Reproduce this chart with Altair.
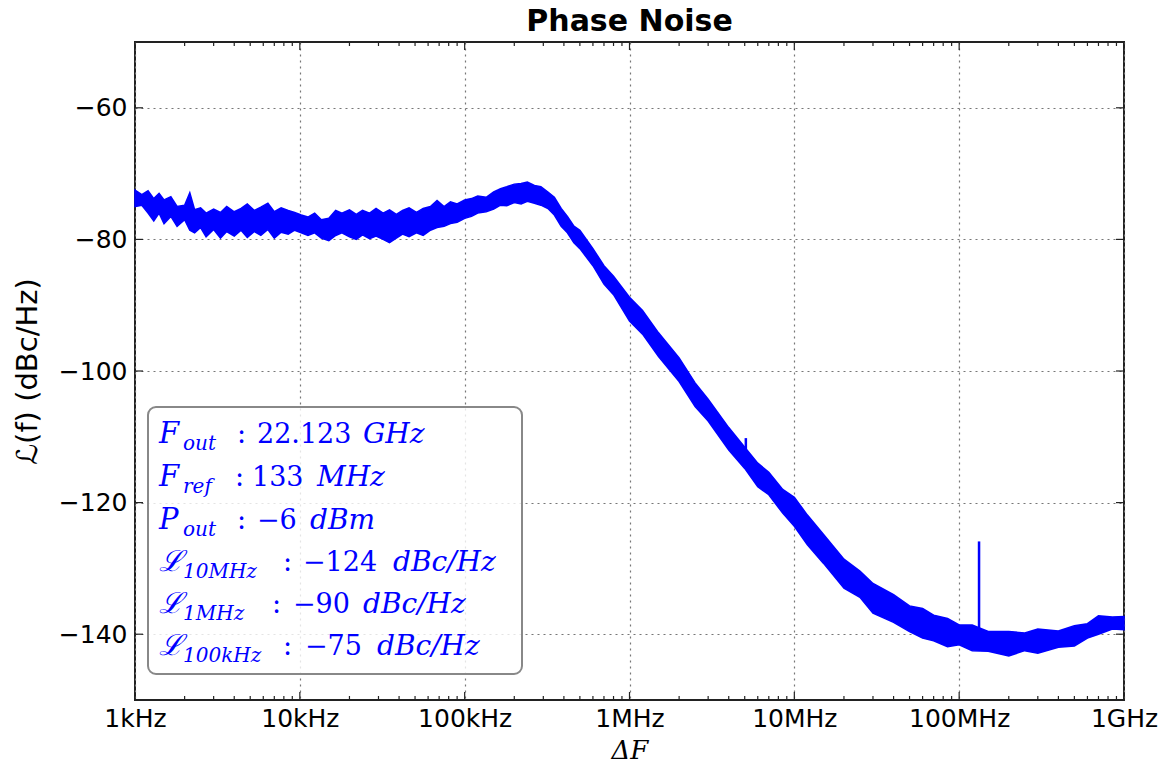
import altair as alt
import pandas as pd

# ---------------- data ----------------
freq_hz = [
    1000, 1100, 1200, 1300, 1400, 1500, 1650, 1800, 2000, 2150, 2300, 2500, 2700,
    3000, 3300, 3600, 4000, 4400, 4800, 5300, 5800, 6400, 7000, 7700, 8500, 9300,
    10200, 11200, 12300, 13500, 15000, 16500, 18000, 20000, 22000, 24000, 26500,
    29000, 32000, 35000, 38500, 42000, 46000, 51000, 56000, 62000, 68000, 75000,
    82000, 90000, 100000, 110000, 120000, 135000, 150000, 165000, 180000, 200000,
    220000, 240000, 265000, 290000, 320000, 350000, 385000, 420000, 460000,
    500000, 600000, 700000, 800000, 1.0e6, 1.2e6, 1.5e6, 2.0e6, 2.5e6, 3.0e6,
    4.0e6, 5.0e6, 6.0e6, 7.0e6, 8.5e6, 1.0e7, 1.2e7, 1.5e7, 2.0e7, 2.5e7, 3.0e7,
    4.0e7, 5.0e7, 6.0e7, 7.0e7, 8.5e7, 1.0e8, 1.2e8, 1.5e8, 2.0e8, 2.5e8, 3.0e8,
    4.0e8, 5.0e8, 6.0e8, 7.0e8, 8.5e8, 1.0e9,
]
upper_db = [
    -72.5, -73.2, -72.6, -73.8, -73.0, -74.0, -73.5, -75.0, -74.8, -72.9, -75.5, -75.2, -76.0,
    -75.4, -75.9, -75.0, -75.8, -75.3, -74.6, -75.6, -75.1, -74.5, -75.8, -75.2, -75.6, -75.9,
    -76.3, -76.6, -76.0, -77.0, -76.8, -75.6, -76.0, -75.5, -76.2, -75.6, -76.0,
    -75.3, -76.0, -75.5, -76.2, -75.6, -75.2, -75.9, -75.3, -75.0, -74.1, -75.0,
    -74.3, -74.6, -74.0, -73.8, -73.4, -73.6, -72.8, -72.3, -72.0, -71.6,
    -71.5, -71.3, -71.8, -72.0, -72.8, -73.6, -75.3, -76.5, -78.0,
    -78.6, -81.4, -84.0, -85.6, -88.8, -90.8, -94.2, -98.0, -101.8, -104.3,
    -108.6, -111.6, -114.0, -115.4, -118.0, -119.2, -121.9, -124.8, -128.6, -130.4, -132.3,
    -134.0, -135.7, -136.1, -137.1, -137.6, -138.6, -138.6, -139.6, -139.6, -139.8, -139.2,
    -139.5, -138.7, -138.4, -137.2, -137.4, -137.3,
]
lower_db = [
    -75.0, -74.8, -76.0, -77.2, -76.0, -77.6, -76.5, -78.0, -77.0, -78.6, -79.0, -78.2, -79.6,
    -78.5, -79.8, -78.8, -79.5, -78.6, -79.7, -78.8, -79.4, -78.5, -79.8, -78.9, -79.2, -78.6,
    -79.0, -79.4, -79.0, -79.8, -80.2, -79.4, -79.0, -79.6, -80.0, -79.3, -79.9,
    -79.5, -80.0, -80.5, -79.8, -79.2, -79.6, -79.0, -79.4, -78.6, -78.2, -78.0,
    -77.6, -77.4, -76.8, -76.5, -76.0, -75.8, -75.4, -74.8, -74.9, -74.4,
    -74.6, -74.2, -74.5, -74.8, -75.3, -76.3, -78.0, -79.0, -80.5,
    -81.4, -84.0, -86.8, -88.4, -92.4, -94.4, -97.8, -101.6, -105.4, -107.6,
    -112.0, -114.8, -117.6, -118.8, -121.6, -123.6, -126.4, -129.2, -133.0, -134.4, -136.8,
    -138.2, -139.6, -140.6, -141.0, -141.9, -141.6, -142.5, -142.6, -143.3, -142.5, -142.9,
    -142.0, -141.8, -140.6, -140.0, -139.2, -139.3,
]
spur_freq_hz = [5.08e6, 1.32e8]
spur_base_db = [-113.0, -141.0]
spur_top_db = [-110.2, -125.9]

x_tick_values = [1e3, 1e4, 1e5, 1e6, 1e7, 1e8, 1e9]
x_tick_labels = ["1kHz", "10kHz", "100kHz", "1MHz", "10MHz", "100MHz", "1GHz"]
y_tick_values = [-140, -120, -100, -80, -60]

leg_main = ["F", "F", "P", "ℒ", "ℒ", "ℒ"]
leg_sub = ["out", "ref", "out", "10MHz", "1MHz", "100kHz"]
leg_num = ["22.123", "133", "−6", "−124", "−90", "−75"]
leg_unit = ["GHz", "MHz", "dBm", "dBc/Hz", "dBc/Hz", "dBc/Hz"]

# ---------------- layout ----------------
W, H = 989, 658
LEFT, TOP = 135, 42
BLUE = "#0000ff"
SANS = "DejaVu Sans"
SERIF = "DejaVu Serif"

xscale = alt.Scale(type="log", domain=[1e3, 1e9], nice=False)
yscale = alt.Scale(domain=[-150, -50], nice=False, zero=False)

labels_js = "[" + ",".join("'%s'" % s for s in x_tick_labels) + "]"
x_label_expr = labels_js + "[round(log(datum.value)/LN10) - 3]"

xaxis = alt.Axis(
    values=x_tick_values, labelExpr=x_label_expr, grid=True,
    gridDash=[2, 4], gridColor="#777777", gridWidth=1.2, tickSize=0, domain=False,
    labelFont=SANS, labelFontSize=25, labelColor="black", labelPadding=6,
    labelFlush=False, labelOverlap=False,
    title="ΔF", titleFont=SERIF, titleFontStyle="italic", titleFontWeight="normal",
    titleFontSize=26, titleColor="black", titlePadding=6)
yaxis = alt.Axis(
    values=y_tick_values, labelExpr="replace(format(datum.value, 'd'), '-', '−')",
    grid=True, gridDash=[2, 4], gridColor="#777777", gridWidth=1.2, tickSize=0,
    domain=False, labelFont=SANS, labelFontSize=25, labelColor="black", labelPadding=8,
    title="ℒ(f) (dBc/Hz)", titleFont=SANS, titleFontSize=29, titleFontWeight="normal",
    titleColor="black", titlePadding=16)

df = pd.DataFrame({"f": freq_hz, "hi": upper_db, "lo": lower_db})
spurs = pd.DataFrame({"f": spur_freq_hz, "hi": spur_base_db, "lo": spur_top_db})

band = alt.Chart(df).mark_area(color=BLUE, stroke=BLUE, strokeWidth=1.5).encode(
    x=alt.X("f:Q", scale=xscale, axis=xaxis),
    y=alt.Y("hi:Q", scale=yscale, axis=yaxis),
    y2="lo:Q",
)

spur_rules = alt.Chart(spurs).mark_rule(color=BLUE, strokeWidth=2.5).encode(
    x=alt.X("f:Q", scale=xscale, axis=xaxis),
    y=alt.Y("hi:Q", scale=yscale, axis=yaxis),
    y2="lo:Q",
)

# inward ticks (matplotlib style)
minor = pd.DataFrame({"f": [m * 10 ** e for e in range(3, 9) for m in range(2, 10)]})
major = pd.DataFrame({"f": x_tick_values})
yt = pd.DataFrame({"hi": y_tick_values})
tick_layers = []
for d, ln in ((minor, 4), (major, 8)):
    for y0, y1 in ((H, H - ln), (0, ln)):
        tick_layers.append(alt.Chart(d).mark_rule(color="#222222", strokeWidth=1.2).encode(
            x=alt.X("f:Q", scale=xscale, axis=xaxis),
            y=alt.value(y0), y2=alt.value(y1)))
for x0, x1 in ((0, 8), (W, W - 8)):
    tick_layers.append(alt.Chart(yt).mark_rule(color="#222222", strokeWidth=1.2).encode(
        y=alt.Y("hi:Q", scale=yscale, axis=yaxis),
        x=alt.value(x0), x2=alt.value(x1)))

# legend-like annotation box
box = alt.Chart(pd.DataFrame({"a": [0]})).mark_rect(
    fill="white", fillOpacity=0.8, stroke="#888888", strokeWidth=2, cornerRadius=8
).encode(
    x=alt.value(148 - LEFT), x2=alt.value(522 - LEFT),
    y=alt.value(407 - TOP), y2=alt.value(674 - TOP),
)

row_base = [443, 486, 529, 571, 613, 655]
colon_x = [237, 235, 237, 283, 272, 283]
num_x = [257, 252, 257, 303, 293, 305]
unit_x = [363, 317, 310, 393, 363, 377]

text_layers = []
src = pd.DataFrame({"a": [0]})
for i in range(len(leg_main)):
    yb = row_base[i] - TOP
    text_layers.append(alt.Chart(src).mark_text(
        text=leg_main[i], font=SERIF, fontStyle="italic", fontSize=29, color=BLUE,
        align="left", baseline="alphabetic").encode(x=alt.value(159 - LEFT), y=alt.value(yb)))
    text_layers.append(alt.Chart(src).mark_text(
        text=leg_sub[i], font=SERIF, fontStyle="italic", fontSize=20, color=BLUE,
        align="left", baseline="alphabetic").encode(x=alt.value(183 - LEFT), y=alt.value(yb + 7)))
    text_layers.append(alt.Chart(src).mark_text(
        text=":", font=SERIF, fontSize=27, color=BLUE,
        align="left", baseline="alphabetic").encode(x=alt.value(colon_x[i] - LEFT), y=alt.value(yb)))
    text_layers.append(alt.Chart(src).mark_text(
        text=leg_num[i], font=SERIF, fontSize=27, color=BLUE,
        align="left", baseline="alphabetic").encode(x=alt.value(num_x[i] - LEFT), y=alt.value(yb)))
    text_layers.append(alt.Chart(src).mark_text(
        text=leg_unit[i], font=SERIF, fontStyle="italic", fontSize=28, color=BLUE,
        align="left", baseline="alphabetic").encode(x=alt.value(unit_x[i] - LEFT), y=alt.value(yb)))

chart = alt.layer(band, spur_rules, *tick_layers, box, *text_layers).properties(
    width=W, height=H,
    background="white",
    title=alt.TitleParams("Phase Noise", font=SANS, fontSize=30, fontWeight="bold",
                          color="black", anchor="middle", offset=4),
    autosize=alt.AutoSizeParams(type="none"),
    padding={"left": LEFT, "top": TOP, "right": 1162 - LEFT - W, "bottom": 767 - TOP - H},
).configure_view(stroke="#222222", strokeWidth=2)

chart.save("out.html", embed_options={"renderer": "svg", "actions": False})
